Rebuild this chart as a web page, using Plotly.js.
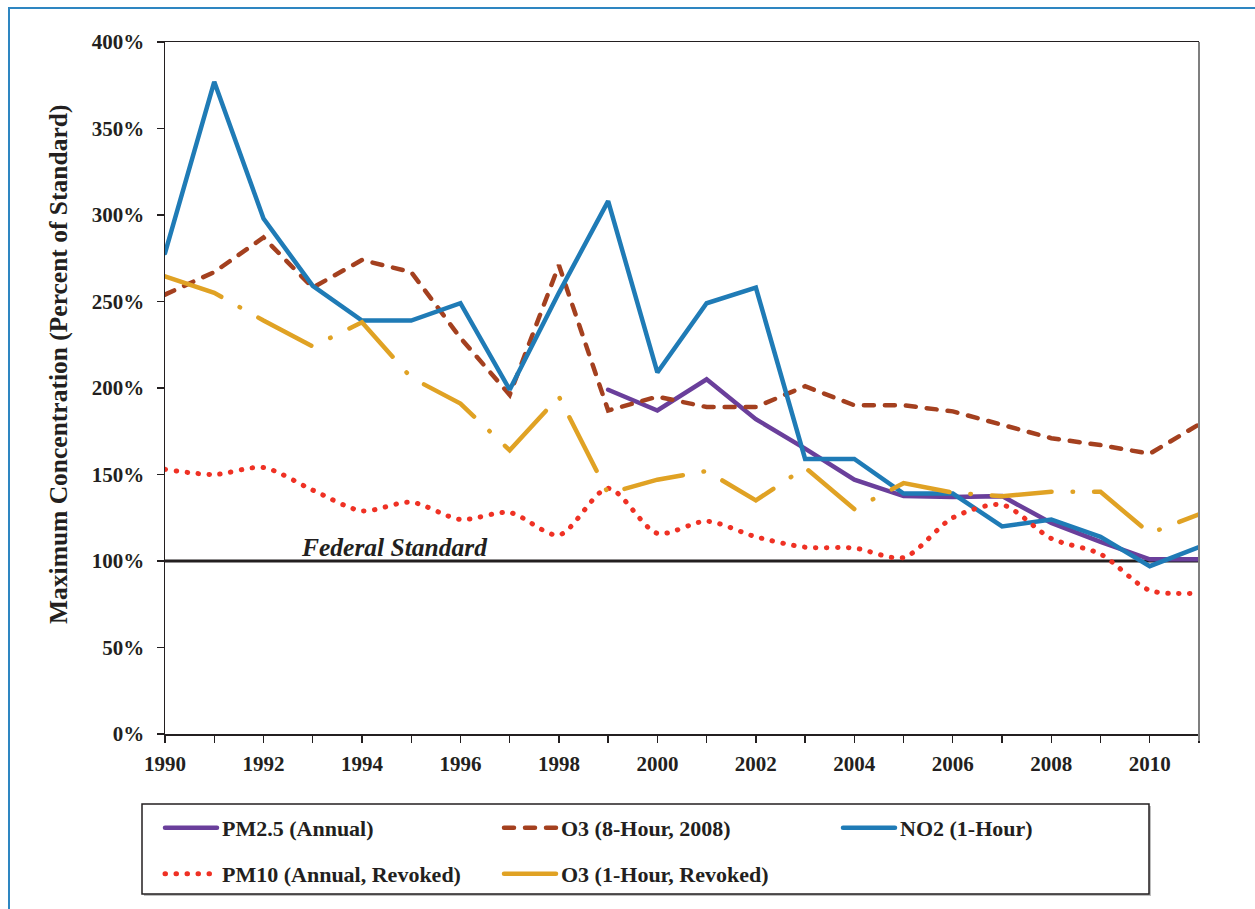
<!DOCTYPE html>
<html>
<head>
<meta charset="utf-8">
<script src="https://cdn.plot.ly/plotly-3.0.1.min.js"></script>
<style>
  html, body { margin: 0; padding: 0; background: #fff; overflow: hidden; }
  #frame {
    position: absolute; left: 8px; top: 7px; width: 2000px; height: 2000px;
    border-left: 2.5px solid #2e86c1; border-top: 2.5px solid #2e86c1;
    pointer-events: none; z-index: 5;
  }
  #chart { position: absolute; left: 0; top: 0; width: 1255px; height: 909px; }
  /* Excel-like round caps for the dashed/dotted series */
  path.js-line { stroke-linecap: round; }
</style>
</head>
<body>
<div id="frame"></div>
<div id="chart"></div>
<script>
// --- Data ---
const years = [1990, 1991, 1992, 1993, 1994, 1995, 1996, 1997, 1998, 1999, 2000,
  2001, 2002, 2003, 2004, 2005, 2006, 2007, 2008, 2009, 2010, 2011];

const pm25Annual = [null, null, null, null, null, null, null, null, null, 199, 187,
  205, 182, 165, 147, 137.5, 137, 137.5, 122, 111, 101, 101];
const o3EightHour = [254, 267, 287, 258, 274, 267, 229, 196, 271, 187, 195,
  189, 189, 201, 190, 190, 186.5, 179, 171, 167, 162, 179];
const no2OneHour = [278, 377, 298, 259, 239, 239, 249, 199, 255, 308, 209,
  249, 258, 159, 159, 139, 139, 120, 124, 114, 97, 108];
const pm10Annual = [153, 150, 154, 141, 129, 134, 124, 128, 115, 142, 116,
  123, 114, 108, 107.5, 102, 125, 132.5, 113, 104, 83, 81.5];
const o3OneHour = [264.5, 255, 239, 224, 238, 206, 191, 164, 195, 139, 147,
  152, 135, 154, 130, 145, 139.5, 137.5, 140, 140, 116, 127];

const seriesNames = ["PM2.5 (Annual)", "O3 (8-Hour, 2008)", "NO2 (1-Hour)",
  "PM10 (Annual, Revoked)", "O3 (1-Hour, Revoked)"];

const xTickVals = years;
const xTickText = years.map((y) => (y % 2 === 0 ? String(y) : ""));
const yTickVals = [0, 50, 100, 150, 200, 250, 300, 350, 400];
const yTickText = yTickVals.map((v) => v + "%");

const federalStandard = 100;
const standardLabel = "Federal Standard";
const yTitle = "Maximum Concentration (Percent of Standard)";

// --- Layout helpers (pixel -> paper) ---
const W = 1255, H = 909;
const M = { l: 165, r: 56, t: 42, b: 175 };
const plotW = W - M.l - M.r;
const plotH = H - M.t - M.b;
const px = (x) => (x - M.l) / plotW;
const py = (y) => (H - M.b - y) / plotH;

const FONT = "'Liberation Serif', 'Times New Roman', serif";
const INK = "#231f20";

const traces = [
  {
    x: years, y: pm25Annual, name: seriesNames[0], legend: "legend",
    type: "scatter", mode: "lines",
    line: { color: "#6a3f9b", width: 4.5 },
  },
  {
    x: years, y: o3EightHour, name: seriesNames[1], legend: "legend",
    type: "scatter", mode: "lines",
    line: { color: "#a4401f", width: 4.5, dash: "10px,11px" },
  },
  {
    x: years, y: no2OneHour, name: seriesNames[2], legend: "legend",
    type: "scatter", mode: "lines",
    line: { color: "#1f7bb6", width: 4.5 },
  },
  {
    x: years, y: pm10Annual, name: seriesNames[3], legend: "legend2",
    type: "scatter", mode: "lines",
    line: { color: "#ef3124", width: 5, dash: "0.5px,10.5px", shape: "spline", smoothing: 0.8 },
  },
  {
    x: years, y: o3OneHour, name: seriesNames[4], legend: "legend2",
    type: "scatter", mode: "lines",
    line: { color: "#e0a224", width: 4.5, dash: "60px,21px,0.5px,21px" },
  },
];

const legendBase = {
  orientation: "h",
  xanchor: "left",
  yanchor: "middle",
  x: px(160),
  entrywidth: 272,
  entrywidthmode: "pixels",
  itemwidth: 52,
  bgcolor: "rgba(0,0,0,0)",
  borderwidth: 0,
  font: { family: FONT, size: 22, color: INK, weight: "bold" },
};

const layout = {
  width: W,
  height: H,
  margin: M,
  paper_bgcolor: "#fff",
  plot_bgcolor: "#fff",
  showlegend: true,
  font: { family: FONT, color: INK },
  xaxis: {
    range: [1990, 2011],
    tickmode: "array",
    tickvals: xTickVals,
    ticktext: xTickText,
    ticks: "outside",
    ticklen: 7,
    tickwidth: 1.3,
    tickcolor: INK,
    ticklabelstandoff: 3,
    showline: true,
    linecolor: INK,
    linewidth: 1.5,
    mirror: true,
    showgrid: false,
    zeroline: false,
    tickfont: { family: FONT, size: 21, color: INK, weight: "bold" },
  },
  xaxis2: {
    overlaying: "x",
    range: [1990, 2011],
    tickmode: "array",
    tickvals: xTickVals,
    ticks: "inside",
    ticklen: 5,
    tickwidth: 1.3,
    tickcolor: INK,
    showticklabels: false,
    showgrid: false,
    zeroline: false,
    anchor: "y",
    side: "bottom",
  },
  yaxis: {
    range: [0, 400],
    tickmode: "array",
    tickvals: yTickVals,
    ticktext: yTickText,
    ticks: "outside",
    ticklen: 7,
    tickwidth: 1.3,
    tickcolor: INK,
    ticklabelstandoff: 8,
    showline: true,
    linecolor: INK,
    linewidth: 1.5,
    showgrid: false,
    zeroline: false,
    tickfont: { family: FONT, size: 21, color: INK, weight: "bold" },
  },
  yaxis2: {
    overlaying: "y",
    range: [0, 400],
    tickmode: "array",
    tickvals: yTickVals,
    ticks: "inside",
    ticklen: 5,
    tickwidth: 1.3,
    tickcolor: INK,
    showticklabels: false,
    showgrid: false,
    zeroline: false,
    anchor: "x",
    side: "left",
  },
  legend: Object.assign({}, legendBase, { y: py(828) }),
  legend2: Object.assign({}, legendBase, { y: py(874) }),
  shapes: [
    // federal standard line
    {
      type: "line", xref: "x", yref: "y",
      x0: years[0], x1: years[years.length - 1],
      y0: federalStandard, y1: federalStandard,
      line: { color: INK, width: 3 },
      layer: "below",
    },
    // right frame edge (grey)
    {
      type: "line", xref: "paper", yref: "paper",
      x0: 1, x1: 1, y0: py(741), y1: 1,
      line: { color: "#7f7f7f", width: 2 },
    },
    // legend box shadow + box
    {
      type: "rect", xref: "paper", yref: "paper",
      x0: px(144), x1: px(1151), y0: py(806), y1: py(896),
      line: { width: 0 }, fillcolor: "#bdbdbd",
    },
    {
      type: "rect", xref: "paper", yref: "paper",
      x0: px(142), x1: px(1149), y0: py(804), y1: py(894),
      line: { color: INK, width: 1.5 }, fillcolor: "#fff",
    },
  ],
  annotations: [
    {
      text: standardLabel,
      xref: "x", yref: "y",
      x: 1994.66, y: federalStandard,
      xanchor: "center", yanchor: "bottom",
      yshift: -3,
      showarrow: false,
      font: { family: FONT, size: 25.5, color: INK, weight: "bold", style: "italic" },
    },
    {
      text: yTitle,
      xref: "paper", yref: "paper",
      x: px(58), y: py(365),
      xanchor: "center", yanchor: "middle",
      textangle: -90,
      showarrow: false,
      font: { family: FONT, size: 25.5, color: INK, weight: "bold" },
    },
  ],
};

Plotly.newPlot("chart", traces, layout, { staticPlot: true, displayModeBar: false });
</script>
</body>
</html>
